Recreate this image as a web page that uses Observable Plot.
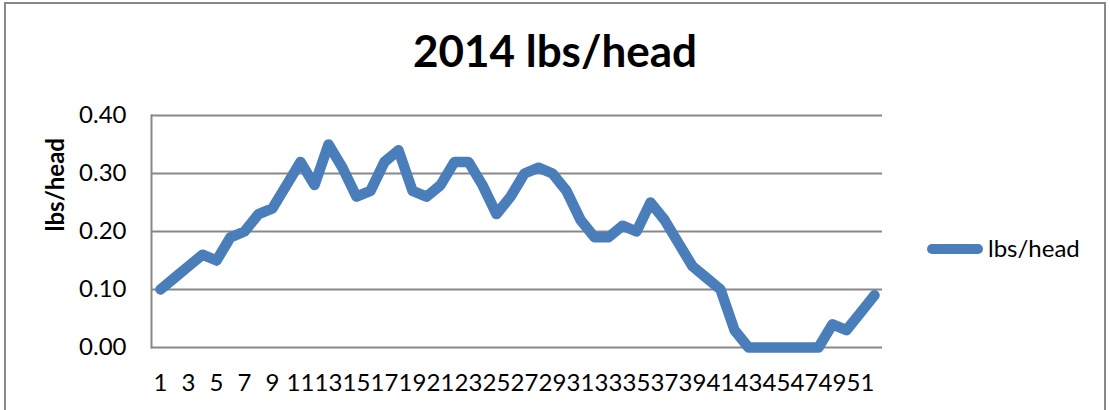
<!DOCTYPE html>
<html>
<head>
<meta charset="utf-8">
<script src="https://cdn.jsdelivr.net/npm/d3@7"></script>
<script src="https://cdn.jsdelivr.net/npm/@observablehq/plot@0.6"></script>
<style>
  html, body { margin: 0; padding: 0; background: #fff; }
  #wrap { position: relative; width: 1110px; height: 410px; overflow: hidden; font-family: Lato, "DejaVu Sans", sans-serif; }
  #border { position: absolute; left: 4px; top: 2px; width: 1102px; height: 430px; border: 2px solid #888; border-bottom: none; box-sizing: border-box; }
  #title { position: absolute; left: 0; top: 28px; width: 1110px; text-align: center; font-size: 44px; line-height: 44px; font-weight: bold; color: #000; }
  #legend { position: absolute; left: 927px; top: 236px; height: 24px; }
  #legend .sw { position: absolute; left: 0; top: 8px; width: 56px; height: 10px; border-radius: 5px; background: #4A7EBB; }
  #legend .lb { position: absolute; left: 61px; top: 0; font-size: 24px; line-height: 24px; white-space: nowrap; color: #000; }
  #chart { position: absolute; left: 0; top: 0; }
</style>
</head>
<body>
<div id="wrap">
  <div id="chart"></div>
  <div id="border"></div>
  <div id="title"></div>
  <div id="legend"><div class="sw"></div><div class="lb"></div></div>
</div>
<script>
const chartTitle = "2014 lbs/head";
const seriesName = "lbs/head";
const yAxisTitle = "lbs/head";
const weeks = d3.range(1, 53);
const lbsPerHead = [
  0.10, 0.12, 0.14, 0.16, 0.15, 0.19, 0.20, 0.23, 0.24, 0.28,
  0.32, 0.28, 0.35, 0.31, 0.26, 0.27, 0.32, 0.34, 0.27, 0.26,
  0.28, 0.32, 0.32, 0.28, 0.23, 0.26, 0.30, 0.31, 0.30, 0.27,
  0.22, 0.19, 0.19, 0.21, 0.20, 0.25, 0.22, 0.18, 0.14, 0.12,
  0.10, 0.03, 0.00, 0.00, 0.00, 0.00, 0.00, 0.00, 0.04, 0.03,
  0.06, 0.09
];
const yTicks = [0, 0.1, 0.2, 0.3, 0.4];
const xTickLabels = weeks.filter(w => w % 2 === 1);

const data = weeks.map((w, i) => ({week: w, value: lbsPerHead[i]}));

document.getElementById("title").textContent = chartTitle;
document.querySelector("#legend .lb").textContent = seriesName;

const plot = Plot.plot({
  width: 1110,
  height: 410,
  marginLeft: 151,
  marginRight: 228,
  marginTop: 115,
  marginBottom: 63,
  style: {fontFamily: "Lato, 'DejaVu Sans', sans-serif", fontSize: "24px", color: "#000", background: "transparent"},
  x: {type: "point", domain: weeks, padding: 0.5, label: null},
  y: {domain: [0, 0.4], label: null},
  marks: [
    Plot.gridY(yTicks, {stroke: "#888", strokeOpacity: 1, strokeWidth: 2}),
    Plot.frame({anchor: "left", stroke: "#888", strokeWidth: 2}),
    Plot.axisY(yTicks, {tickSize: 0, tickPadding: 25, tickFormat: d3.format(".2f"), fontSize: 24, label: null}),
    Plot.axisX(xTickLabels, {tickSize: 0, tickPadding: 26, fontSize: 24, label: null}),
    Plot.text([yAxisTitle], {text: d => d, frameAnchor: "left", rotate: -90, dx: -95, fontWeight: "bold", fontSize: 24}),
    Plot.line(data, {x: "week", y: "value", stroke: "#4A7EBB", strokeWidth: 10.5, strokeLinejoin: "round", strokeLinecap: "round"})
  ]
});
document.getElementById("chart").appendChild(plot);
</script>
</body>
</html>
